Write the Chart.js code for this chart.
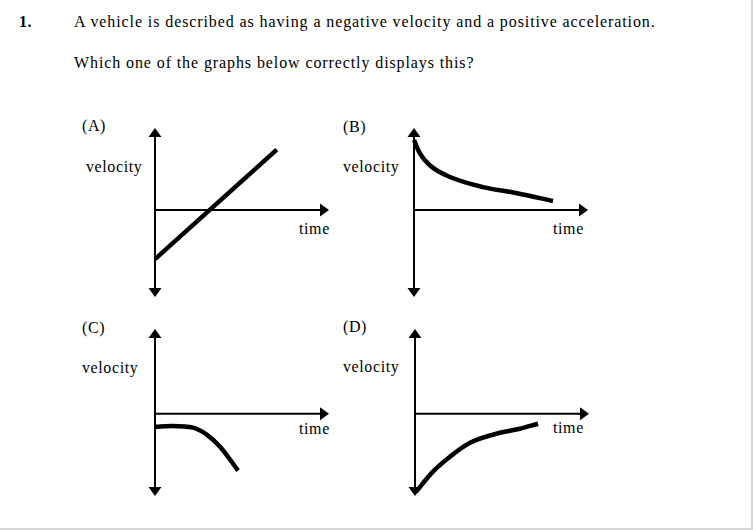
<!DOCTYPE html>
<html>
<head>
<meta charset="utf-8">
<script src="https://cdn.jsdelivr.net/npm/chart.js@4"></script>
<style>
body { margin: 0; background: #fff; }
#page {
    position: relative; width: 751px; height: 528px; overflow: hidden;
    border-right: 2px solid #d6d6d6; border-bottom: 2px solid #d6d6d6;
    font-family: "Liberation Serif", "Times New Roman", serif; font-size: 16px; color: #000;
}
.t { position: absolute; line-height: 16px; white-space: nowrap; letter-spacing: 0.6px; }
.q { letter-spacing: 0.9px; }
.c { position: absolute; }
</style>
</head>
<body>
<div id="page">
    <div class="t" style="left:19px;top:14px;font-weight:bold">1.</div>
    <div class="t q" style="left:74px;top:14px">A vehicle is described as having a negative velocity and a positive acceleration.</div>
    <div class="t q" style="left:74px;top:55px">Which one of the graphs below correctly displays this?</div>

    <div class="t" style="left:82px;top:118px">(A)</div>
    <div class="t" style="left:86px;top:159px">velocity</div>
    <div class="t" style="left:299px;top:221px">time</div>

    <div class="t" style="left:343px;top:119px">(B)</div>
    <div class="t" style="left:343px;top:159px">velocity</div>
    <div class="t" style="left:553px;top:221px">time</div>

    <div class="t" style="left:82px;top:320px">(C)</div>
    <div class="t" style="left:82px;top:360px">velocity</div>
    <div class="t" style="left:299px;top:421px">time</div>

    <div class="t" style="left:343px;top:319px">(D)</div>
    <div class="t" style="left:343px;top:359px">velocity</div>
    <div class="t" style="left:553px;top:420px">time</div>

    <canvas class="c" id="chartA" width="198" height="193" style="left:143px;top:116px"></canvas>
    <canvas class="c" id="chartB" width="198" height="193" style="left:402px;top:116px"></canvas>
    <canvas class="c" id="chartC" width="198" height="191" style="left:143px;top:317px"></canvas>
    <canvas class="c" id="chartD" width="198" height="191" style="left:403px;top:317px"></canvas>
</div>
<script>
// sketch values (time 0..10, velocity roughly -5..5)
const timeA = [0, 7.0];
const velA = [-2.88, 3.53];

const timeB = [0, 0.34, 0.92, 2.07, 3.97, 5.92, 7.99];
const velB = [4.09, 3.31, 2.60, 1.93, 1.34, 0.98, 0.52];

const timeC = [0, 1.03, 2.18, 2.99, 3.74, 4.77];
const velC = [-0.76, -0.72, -0.82, -1.24, -1.94, -3.35];

const timeD = [0.06, 1.03, 2.01, 3.16, 4.89, 6.03, 7.07];
const velD = [-4.6, -3.41, -2.53, -1.71, -1.12, -0.88, -0.59];

// axes with arrow heads, drawn from the chart's own scales
function arrowHead(ctx, tx, ty, dx, dy) {
    const len = 9, half = 6.5;
    const bx = tx - dx * len, by = ty - dy * len;
    ctx.beginPath();
    ctx.moveTo(tx, ty);
    ctx.lineTo(bx - dy * half, by + dx * half);
    ctx.lineTo(bx + dy * half, by - dx * half);
    ctx.closePath();
    ctx.fill();
}

const arrowAxes = {
    id: 'arrowAxes',
    beforeDatasetsDraw(chart) {
        const { ctx, scales: { x, y } } = chart;
        const x0 = x.getPixelForValue(0);
        const y0 = y.getPixelForValue(0);
        const xEnd = x.getPixelForValue(x.max);
        const yTop = y.getPixelForValue(y.max);
        const yBot = y.getPixelForValue(y.min);
        ctx.save();
        ctx.strokeStyle = '#000';
        ctx.fillStyle = '#000';
        ctx.lineWidth = 2;
        ctx.beginPath();
        ctx.moveTo(x0, yTop + 6);
        ctx.lineTo(x0, yBot - 6);
        ctx.moveTo(x0, y0);
        ctx.lineTo(xEnd - 6, y0);
        ctx.stroke();
        arrowHead(ctx, x0, yTop, 0, -1);
        arrowHead(ctx, x0, yBot, 0, 1);
        arrowHead(ctx, xEnd, y0, 1, 0);
        ctx.restore();
    }
};

function renderPanel(id, times, vels, yMin, yMax, curved) {
    const ctx = document.getElementById(id).getContext('2d');
    return new Chart(ctx, {
        type: 'line',
        data: {
            datasets: [{
                data: times.map((t, i) => ({ x: t, y: vels[i] })),
                borderColor: '#000',
                borderWidth: 4.5,
                pointRadius: 0,
                fill: false,
                clip: false,
                cubicInterpolationMode: curved ? 'monotone' : 'default',
                tension: 0
            }]
        },
        options: {
            responsive: false,
            animation: false,
            events: [],
            layout: { padding: 12 },
            plugins: { legend: { display: false }, tooltip: { enabled: false } },
            scales: {
                x: { type: 'linear', min: 0, max: 10, display: false },
                y: { type: 'linear', min: yMin, max: yMax, display: false }
            }
        },
        plugins: [arrowAxes]
    });
}

renderPanel('chartA', timeA, velA, -5.1, 4.8, false);
renderPanel('chartB', timeB, velB, -5.1, 4.8, true);
renderPanel('chartC', timeC, velC, -4.85, 5.0, true);
renderPanel('chartD', timeD, velD, -4.85, 5.0, true);
</script>
</body>
</html>
